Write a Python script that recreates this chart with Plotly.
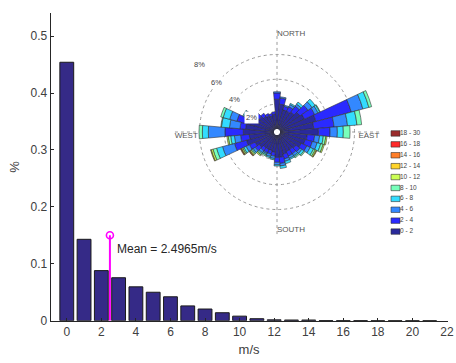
import math
import plotly.graph_objects as go

# ---------------- data ----------------
speed_bins_hist = list(range(22))
hist_pct = [0.454, 0.143, 0.088, 0.0755, 0.0595, 0.050, 0.042, 0.026, 0.0205, 0.014,
            0.008, 0.0035, 0.0015, 0.0012, 0.0012, 0.0003, 0.0002, 0.0002, 0.0001,
            0.0001, 0.0001, 0.0001]
mean_speed = 2.4965
mean_marker_height = 0.15
x_ticks = list(range(0, 23, 2))
y_ticks = [0, 0.1, 0.2, 0.3, 0.4, 0.5]

directions = list(range(0, 360, 10))
speed_labels = ["0 - 2", "2 - 4", "4 - 6", "6 - 8", "8 - 10", "10 - 12",
                "12 - 14", "14 - 16", "16 - 18", "18 - 30"]
speed_colors = ["#2a2a9c", "#2a2aff", "#3388ff", "#33dcff", "#77ffbb", "#ccff55",
                "#ffd42a", "#ff7f2a", "#ff2a2a", "#9b2b2b"]

#         0    10   20   30   40   50   60   70   80   90   100  110  120  130  140  150  160  170
s0_2 = [2.4, 2.0, 1.6, 1.6, 1.7, 2.0, 2.2, 3.0, 2.73, 3.09, 2.2, 2.1, 1.9, 1.6, 1.5, 1.5, 1.6, 1.8,
        1.8, 1.4, 1.3, 1.3, 1.3, 1.5, 1.7, 2.3, 2.0, 2.47, 2.3, 2.2, 1.8, 1.5, 1.3, 1.2, 1.1, 1.2]
s2_4 = [0.5, 0.5, 0.3, 0.4, 0.6, 0.8, 0.9, 2.95, 1.64, 0.94, 0.6, 0.6, 0.5, 0.4, 0.4, 0.4, 0.4, 0.5,
        0.4, 0.3, 0.3, 0.3, 0.3, 0.4, 0.5, 1.0, 0.7, 1.48, 0.45, 0.9, 0.6, 0.4, 0.3, 0.2, 0.2, 0.2]
s4_6 = [0.1, 0.1, 0.1, 0.2, 0.2, 0.4, 0.3, 0.97, 1.09, 0.59, 0.4, 0.4, 0.3, 0.2, 0.2, 0.2, 0.2, 0.2,
        0.2, 0.2, 0.2, 0.1, 0.2, 0.2, 0.3, 1.0, 0.5, 1.34, 0.85, 0.6, 0.3, 0.1, 0.0, 0.0, 0.0, 0.0]
s6_8 = [0, 0, 0, 0.1, 0.2, 0.3, 0.15, 0.5, 0.76, 0.48, 0.3, 0.3, 0.3, 0.2, 0.1, 0.1, 0.2, 0.2,
        0.1, 0.1, 0.1, 0.1, 0.1, 0.1, 0.2, 0.5, 0.3, 0.48, 0.65, 0.55, 0.1, 0, 0, 0, 0, 0]
s8_10 = [0, 0, 0, 0, 0, 0, 0.05, 0.23, 0.38, 0.54, 0.2, 0.2, 0.15, 0.1, 0.1, 0, 0, 0,
         0, 0, 0, 0.1, 0.1, 0.1, 0.1, 0.3, 0.2, 0.27, 0.05, 0.2, 0, 0, 0, 0, 0, 0]
s10_12 = [0, 0, 0, 0, 0, 0, 0, 0, 0, 0, 0.1, 0.1, 0.1, 0, 0, 0, 0, 0,
          0, 0, 0, 0, 0.1, 0.1, 0.1, 0.15, 0.1, 0, 0, 0, 0, 0, 0, 0, 0, 0]
s12_14 = [0, 0, 0, 0, 0, 0, 0, 0, 0, 0, 0, 0, 0.05, 0, 0, 0, 0, 0,
          0, 0, 0, 0, 0, 0.05, 0.05, 0.05, 0, 0, 0, 0, 0, 0, 0, 0, 0, 0]
s14_16 = [0, 0, 0, 0, 0, 0, 0, 0, 0, 0, 0, 0, 0, 0, 0, 0, 0, 0,
          0, 0, 0, 0, 0, 0.05, 0.05, 0, 0, 0, 0, 0, 0, 0, 0, 0, 0, 0]
s16_18 = [0] * 36
s18_30 = [0] * 36
rose_data = [s0_2, s2_4, s4_6, s6_8, s8_10, s10_12, s12_14, s14_16, s16_18, s18_30]

ring_ticks = [2, 4, 6, 8]
ring_labels = ["2%", "4%", "6%", "8%"]
ring_label_angle = 315          # compass degrees (NW)
compass_labels = ["NORTH", "EAST", "SOUTH", "WEST"]
compass_angles = [0, 90, 180, 270]

FONT = "Liberation Sans, Arial, sans-serif"
W, H = 456, 363

def px_x(a, b):
    return [a / W, b / W]

def px_y(top, bottom):
    return [1 - bottom / H, 1 - top / H]

# polar geometry (pixels)
ROSE_CX, ROSE_CY, ROSE_R = 277.0, 132.0, 102.7
ROSE_RMAX = 8.03
ROSE_HOLE = 0.03

fig = go.Figure()

# ---------------- histogram ----------------
fig.add_trace(go.Bar(
    x=speed_bins_hist, y=hist_pct, width=0.8,
    marker=dict(color="#352a87", line=dict(color="#1a1a1a", width=1)),
    showlegend=False, hoverinfo="skip"))

fig.add_trace(go.Scatter(
    x=[mean_speed, mean_speed], y=[0, mean_marker_height], mode="lines",
    line=dict(color="#ff00ff", width=2), showlegend=False, hoverinfo="skip"))
fig.add_trace(go.Scatter(
    x=[mean_speed], y=[mean_marker_height], mode="markers",
    marker=dict(symbol="circle-open", size=7, color="#ff00ff", line=dict(width=1.6, color="#ff00ff")),
    showlegend=False, hoverinfo="skip"))

fig.add_annotation(x=mean_speed + 0.3, y=0.1255, xref="x", yref="y",
                   text=f"Mean = {mean_speed}m/s", showarrow=False, xanchor="left",
                   font=dict(family=FONT, size=12, color="#262626"))

# ---------------- wind rose ----------------
for lab, col, vals in zip(speed_labels, speed_colors, rose_data):
    fig.add_trace(go.Barpolar(
        r=vals, theta=directions, width=10, name=lab,
        marker=dict(color=col, line=dict(color="#333333", width=0.6)),
        showlegend=False, hoverinfo="skip", subplot="polar"))

label_pos = {"NORTH": "bottom right", "EAST": "bottom left", "SOUTH": "top right", "WEST": "bottom right"}
fig.add_trace(go.Scatterpolar(
    r=[ring_ticks[-1]] * 4, theta=compass_angles, mode="text", text=compass_labels,
    textposition=[label_pos[c] for c in compass_labels],
    textfont=dict(family=FONT, size=8, color="#555555"),
    showlegend=False, hoverinfo="skip", subplot="polar", cliponaxis=False))

# ring labels with white background (placed from the polar geometry)
r0 = ROSE_R * ROSE_HOLE
per_pct = (ROSE_R - r0) / ROSE_RMAX
ang = math.radians(ring_label_angle)
for val, lab in zip(ring_ticks, ring_labels):
    rr = r0 + per_pct * val
    px = ROSE_CX + rr * math.sin(ang) - 5.5
    py = ROSE_CY - rr * math.cos(ang) + 5.0
    fig.add_annotation(x=px / W, y=1 - py / H, xref="paper", yref="paper",
                       text=lab, showarrow=False, xanchor="center", yanchor="middle",
                       bgcolor="white", borderpad=1,
                       font=dict(family=FONT, size=7.5, color="#444444"))

# ---------------- custom legend ----------------
idx = list(range(len(speed_labels)))
fig.add_trace(go.Bar(
    y=idx, x=[9] * len(idx), base=[1] * len(idx), orientation="h", width=0.5,
    marker=dict(color=speed_colors, line=dict(color="#333333", width=0.6)),
    xaxis="x2", yaxis="y2", showlegend=False, hoverinfo="skip"))
fig.add_trace(go.Scatter(
    y=idx, x=[10] * len(idx), mode="text", text=speed_labels, textposition="middle right",
    textfont=dict(family=FONT, size=6.5, color="#444444"),
    xaxis="x2", yaxis="y2", showlegend=False, hoverinfo="skip", cliponaxis=False))

fig.update_layout(
    template="none",
    width=W, height=H,
    margin=dict(l=0, r=0, t=0, b=0, autoexpand=False),
    paper_bgcolor="white", plot_bgcolor="rgba(0,0,0,0)",
    font=dict(family=FONT, color="#404040"),
    xaxis=dict(domain=px_x(50.7, 447.5), range=[-0.93, 22.03], tickvals=x_ticks,
               ticks="inside", ticklen=3, tickcolor="#262626", showline=True,
               linecolor="#262626", linewidth=1, showgrid=False, zeroline=False,
               automargin=False,
               tickfont=dict(size=12, color="#404040"),
               title=dict(text="m/s", font=dict(size=13, color="#404040"), standoff=6)),
    yaxis=dict(domain=px_y(13.3, 320.7), range=[0, 0.54], tickvals=y_ticks,
               ticks="inside", ticklen=3, tickcolor="#262626", showline=True,
               linecolor="#262626", linewidth=1, showgrid=False, zeroline=False,
               automargin=False,
               tickfont=dict(size=12, color="#404040"),
               title=dict(text="%", font=dict(size=13, color="#404040"), standoff=8)),
    xaxis2=dict(domain=px_x(390, 456), range=[0, 66], visible=False, fixedrange=True,
                automargin=False),
    yaxis2=dict(domain=px_y(128, 237), range=[-0.5, 9.5], visible=False, fixedrange=True,
                anchor="x2", automargin=False),
    polar=dict(
        domain=dict(x=px_x(ROSE_CX - ROSE_R, ROSE_CX + ROSE_R),
                    y=px_y(ROSE_CY - ROSE_R, ROSE_CY + ROSE_R)),
        bgcolor="rgba(0,0,0,0)", hole=ROSE_HOLE, barmode="stack",
        radialaxis=dict(range=[0, ROSE_RMAX], tickvals=ring_ticks, showticklabels=False,
                        showline=False, ticks="",
                        gridcolor="#9a9a9a", griddash="dot", gridwidth=1),
        angularaxis=dict(rotation=90, direction="clockwise", tickvals=compass_angles,
                         showticklabels=False, ticks="", showline=False,
                         gridcolor="#9a9a9a", griddash="dot", gridwidth=1),
    ),
)

fig.write_html("out.html", config={"displayModeBar": False},
               post_script="document.body.style.margin='0';")
